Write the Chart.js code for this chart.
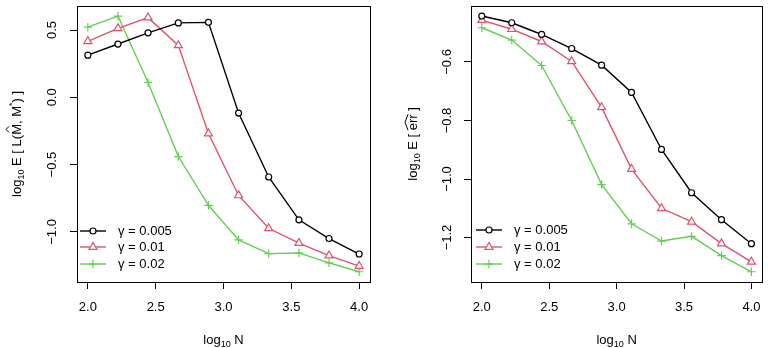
<!DOCTYPE html>
<html>
<head>
  <title>Loss and error vs log10 N</title>
  <script src="https://cdn.jsdelivr.net/npm/chart.js"></script>
  <style>
    body { margin: 0; background: #ffffff; }
    .panel { position: absolute; top: 0; width: 384px; height: 348px; }
    #leftBox { left: 0; }
    #rightBox { left: 384px; }
  </style>
</head>
<body>
  <div class="panel" id="leftBox"><canvas id="leftChart" width="384" height="348"></canvas></div>
  <div class="panel" id="rightBox"><canvas id="rightChart" width="384" height="348"></canvas></div>
<script>
// x positions (log10 N)
const logN = [2.0, 2.222, 2.444, 2.667, 2.889, 3.111, 3.333, 3.556, 3.778, 4.0];
const gammaLabels = ['0.005', '0.01', '0.02'];

// left panel: log10 E[ L(M^, M*) ]
const lossG005 = [0.313, 0.396, 0.479, 0.553, 0.557, -0.117, -0.592, -0.910, -1.049, -1.164];
const lossG01  = [0.416, 0.513, 0.592, 0.386, -0.269, -0.729, -0.973, -1.083, -1.176, -1.254];
const lossG02  = [0.521, 0.604, 0.110, -0.440, -0.802, -1.059, -1.161, -1.156, -1.230, -1.296];

// right panel: log10 E[ err^ ]
const errG005 = [-0.443, -0.466, -0.506, -0.554, -0.611, -0.704, -0.899, -1.047, -1.139, -1.221];
const errG01  = [-0.457, -0.488, -0.530, -0.598, -0.755, -0.966, -1.100, -1.146, -1.221, -1.283];
const errG02  = [-0.483, -0.525, -0.612, -0.800, -1.019, -1.153, -1.212, -1.196, -1.262, -1.317];

const xTicks = [2.0, 2.5, 3.0, 3.5, 4.0];
const lossTicks = [-1.0, -0.5, 0.0, 0.5];
const errTicks = [-1.2, -1.0, -0.8, -0.6];

const colors = ['#000000', '#DF536B', '#61D04F'];
const styles = ['circle', 'triangle', 'cross'];
const radii = [3, 4.6, 4.2];
const FONT = '"Liberation Sans", Arial, Helvetica, sans-serif';

function fmt(v) {
  const s = Math.abs(v).toFixed(1);
  return v < 0 ? '\u2212' + s : s;
}

// draw a run of text pieces centred on (0,0) in current transform
function drawRich(ctx, parts) {
  let total = 0;
  parts.forEach(p => {
    ctx.font = p.size + 'px ' + FONT;
    p.w = ctx.measureText(p.t).width;
    total += p.w;
  });
  let x = -total / 2;
  const base = 4.5;
  parts.forEach(p => {
    ctx.font = p.size + 'px ' + FONT;
    ctx.textAlign = 'left';
    ctx.textBaseline = 'alphabetic';
    ctx.fillText(p.t, x, base + (p.dy || 0));
    if (p.hat) {
      ctx.beginPath();
      ctx.lineWidth = 1;
      ctx.moveTo(x + p.w * 0.22, base - 11.5);
      ctx.lineTo(x + p.w * 0.5, base - 14.5);
      ctx.lineTo(x + p.w * 0.78, base - 11.5);
      ctx.stroke();
    }
    if (p.wide) {
      ctx.beginPath();
      ctx.lineWidth = 1;
      ctx.moveTo(x, base - 8.5);
      ctx.lineTo(x + p.w * 0.5, base - 11.5);
      ctx.lineTo(x + p.w, base - 8.5);
      ctx.stroke();
    }
    x += p.w;
  });
}

const rFrame = {
  id: 'rFrame',
  afterDraw(chart, args, opts) {
    const ctx = chart.ctx;
    const a = chart.chartArea;
    const xs = chart.scales.x, ys = chart.scales.y;
    ctx.save();
    ctx.strokeStyle = '#000';
    ctx.fillStyle = '#000';
    ctx.lineWidth = 1;
    ctx.strokeRect(Math.round(a.left) + 0.5, Math.round(a.top) + 0.5,
      Math.round(a.right - a.left), Math.round(a.bottom - a.top));

    // tick labels
    ctx.font = '13px ' + FONT;
    ctx.textAlign = 'center';
    ctx.textBaseline = 'middle';
    xs.ticks.forEach(t => ctx.fillText(fmt(t.value), xs.getPixelForValue(t.value), 307));
    ys.ticks.forEach(t => {
      ctx.save();
      ctx.translate(opts.yLabelX, ys.getPixelForValue(t.value));
      ctx.rotate(-Math.PI / 2);
      ctx.fillText(fmt(t.value), 0, 0);
      ctx.restore();
    });

    // axis titles
    ctx.save();
    ctx.translate((a.left + a.right) / 2, 339);
    drawRich(ctx, [{t: 'log', size: 13}, {t: '10', size: 9, dy: 3}, {t: ' N', size: 13}]);
    ctx.restore();

    ctx.save();
    ctx.translate(opts.titleX, (a.top + a.bottom) / 2);
    ctx.rotate(-Math.PI / 2);
    drawRich(ctx, opts.yTitle);
    ctx.restore();

    // legend
    chart.data.datasets.forEach((ds, i) => {
      const y = opts.legendY[i];
      const x0 = opts.legendX;
      ctx.strokeStyle = ds.borderColor;
      ctx.lineWidth = 1.4;
      ctx.beginPath();
      ctx.moveTo(x0, y);
      ctx.lineTo(x0 + 26, y);
      ctx.stroke();
      ctx.fillStyle = ds.pointBackgroundColor;
      ctx.lineWidth = 1.2;
      Chart.helpers.drawPoint(ctx, {pointStyle: ds.pointStyle, radius: ds.pointRadius, borderWidth: 1.2}, x0 + 13, y);
      ctx.fillStyle = '#000';
      ctx.font = '13px ' + FONT;
      ctx.textAlign = 'left';
      ctx.textBaseline = 'middle';
      ctx.fillText('\u03b3 = ' + gammaLabels[i], x0 + 38, y);
    });
    ctx.restore();
  }
};

function makeDatasets(series) {
  return series.map((vals, i) => ({
    label: '\u03b3 = ' + gammaLabels[i],
    data: logN.map((x, j) => ({x: x, y: vals[j]})),
    borderColor: colors[i],
    backgroundColor: colors[i],
    pointBackgroundColor: i === 2 ? 'rgba(0,0,0,0)' : '#ffffff',
    pointBorderColor: colors[i],
    pointStyle: styles[i],
    pointRadius: radii[i],
    pointBorderWidth: 1.2,
    borderWidth: 1.4,
    tension: 0
  }));
}

function makeChart(id, series, yTicks, yMin, yMax, pad, frameOpts) {
  new Chart(document.getElementById(id), {
    type: 'line',
    data: {datasets: makeDatasets(series)},
    options: {
      responsive: false,
      animation: false,
      layout: {padding: {left: 0, top: 1, right: pad.right, bottom: 0}},
      plugins: {legend: {display: false}, tooltip: {enabled: false}, rFrame: frameOpts},
      scales: {
        x: {
          type: 'linear', min: 1.92, max: 4.08,
          afterBuildTicks: s => { s.ticks = xTicks.map(v => ({value: v})); },
          afterFit: s => { s.height = 66; },
          ticks: {display: false},
          border: {display: false},
          grid: {drawOnChartArea: false, drawTicks: true, tickLength: 7, color: '#000'}
        },
        y: {
          type: 'linear', min: yMin, max: yMax,
          afterBuildTicks: s => { s.ticks = yTicks.map(v => ({value: v})); },
          afterFit: s => { s.width = pad.left; },
          ticks: {display: false},
          border: {display: false},
          grid: {drawOnChartArea: false, drawTicks: true, tickLength: 7, color: '#000'}
        }
      }
    },
    plugins: [rFrame]
  });
}

makeChart('leftChart', [lossG005, lossG01, lossG02], lossTicks, -1.372, 0.680,
  {left: 77, right: 14},
  {
    yLabelX: 52, titleX: 16, legendX: 80, legendY: [231, 247, 264],
    yTitle: [
      {t: 'log', size: 13}, {t: '10', size: 9, dy: 3}, {t: ' E [ L(', size: 13},
      {t: 'M', size: 13, hat: true}, {t: ', M', size: 13}, {t: '*', size: 9, dy: -6},
      {t: ') ]', size: 13}
    ]
  });

makeChart('rightChart', [errG005, errG01, errG02], errTicks, -1.352, -0.408,
  {left: 87, right: 2},
  {
    yLabelX: 63, titleX: 28, legendX: 92, legendY: [230, 247, 264],
    yTitle: [
      {t: 'log', size: 13}, {t: '10', size: 9, dy: 3}, {t: ' E [ ', size: 13},
      {t: 'err', size: 13, wide: true}, {t: ' ]', size: 13}
    ]
  });
</script>
</body>
</html>
